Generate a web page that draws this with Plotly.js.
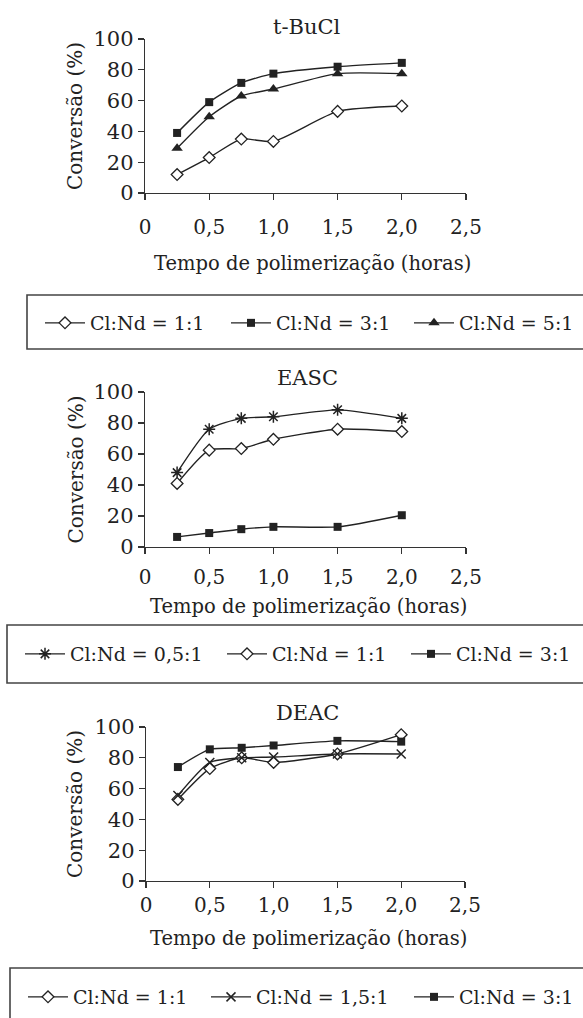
<!DOCTYPE html>
<html>
<head>
<meta charset="utf-8">
<script src="https://cdn.plot.ly/plotly-3.0.1.min.js"></script>
<style>
  html, body { margin: 0; padding: 0; background: #ffffff; }
  #chart { width: 583px; height: 1018px; }
</style>
</head>
<body>
<div id="chart"></div>
<script>
// Polymerization time (hours)
const tempo = [0.25, 0.5, 0.75, 1.0, 1.5, 2.0];

// Conversion (%) with t-BuCl as chloride donor
const tbucl_1_1 = [12, 23, 35, 33.5, 53, 56.5];
const tbucl_3_1 = [39, 59, 71.5, 77.5, 82, 84.5];
const tbucl_5_1 = [29, 49.5, 63, 67.5, 77.5, 77.5];

// Conversion (%) with EASC
const easc_05_1 = [48, 76, 83, 84, 88.5, 83];
const easc_1_1 = [41, 62.5, 63.5, 69.5, 76, 74.5];
const easc_3_1 = [6.5, 9, 11.5, 13, 13, 20.5];

// Conversion (%) with DEAC
const deac_1_1 = [53, 73, 80, 77, 82.5, 95];
const deac_15_1 = [55.5, 77, 80, 80.5, 82.5, 82.5];
const deac_3_1 = [74, 85.5, 86.5, 88, 91, 90.5];

// Tick labels and texts
const xTickVals = [0, 0.5, 1.0, 1.5, 2.0, 2.5];
const xTickText = ['0', '0,5', '1,0', '1,5', '2,0', '2,5'];
const yTickVals = [0, 20, 40, 60, 80, 100];
const panelTitles = ['t-BuCl', 'EASC', 'DEAC'];
const xTitle = 'Tempo de polimerização (horas)';
const yTitle = 'Conversão (%)';

const W = 583, H = 1018;
const FONT = 'DejaVu Serif, Liberation Serif, serif';
const INK = '#222222';
const AXIS = '#333333';

const px = v => v / W;          // horizontal pixel -> paper
const py = v => 1 - v / H;      // vertical pixel -> paper

// Panel frames in pixels: left, right, top (100 %), bottom (0 %),
// plus the legend strip beneath each panel (box edges, row centre, entry starts)
const panels = [
  { l: 145, r: 466, t: 39,  b: 193, labStand: 10, titleY: 27,  xtY: 263, xtX: 312,
    box: { l: 27, t: 295, b: 349 }, legY: 323, legX: [40, 226, 409] },
  { l: 145, r: 466, t: 392, b: 547, labStand: 6,  titleY: 378, xtY: 606, xtX: 308,
    box: { l: 7, t: 625, b: 683 },  legY: 654, legX: [20, 222, 406] },
  { l: 146, r: 465, t: 727, b: 881, labStand: 0,  titleY: 713, xtY: 938, xtX: 308,
    box: { l: 10, t: 968, b: 1040 }, legY: 997, legX: [23, 206, 409] }
];

// Marker styles: hollow diamond is white-filled, line-only glyphs are stroked
const markerStyles = {
  diamond:  { symbol: 'diamond', size: 9, color: '#ffffff', line: { color: INK, width: 1.3 } },
  square:   { symbol: 'square', size: 8, color: INK, line: { color: INK, width: 0 } },
  triangle: { symbol: 'triangle-up', size: 10, color: INK, line: { color: INK, width: 0 } },
  asterisk: { symbol: 'asterisk-open', size: 10, color: INK, line: { color: INK, width: 1.5 } },
  cross:    { symbol: 'x-thin-open', size: 9, color: INK, line: { color: INK, width: 1.5 } }
};

// Each legend entry gets its own legend so it can sit at its own spot in the strip
let legendCount = 0;
const legendIds = [];
function nextLegend() {
  legendCount += 1;
  const id = legendCount === 1 ? 'legend' : 'legend' + legendCount;
  legendIds.push(id);
  return id;
}

function series(y, name, style, axisIdx) {
  const suf = axisIdx === 1 ? '' : String(axisIdx);
  return {
    x: tempo, y: y, name: name,
    type: 'scatter', mode: 'lines+markers',
    xaxis: 'x' + suf, yaxis: 'y' + suf,
    legend: nextLegend(),
    cliponaxis: false,
    line: { color: INK, width: 1.4, shape: 'spline', smoothing: 0.6 },
    marker: markerStyles[style]
  };
}

const traces = [
  series(tbucl_1_1, 'Cl:Nd = 1:1', 'diamond', 1),
  series(tbucl_3_1, 'Cl:Nd = 3:1', 'square', 1),
  series(tbucl_5_1, 'Cl:Nd = 5:1', 'triangle', 1),

  series(easc_05_1, 'Cl:Nd = 0,5:1', 'asterisk', 2),
  series(easc_1_1, 'Cl:Nd = 1:1', 'diamond', 2),
  series(easc_3_1, 'Cl:Nd = 3:1', 'square', 2),

  series(deac_1_1, 'Cl:Nd = 1:1', 'diamond', 3),
  series(deac_15_1, 'Cl:Nd = 1,5:1', 'cross', 3),
  series(deac_3_1, 'Cl:Nd = 3:1', 'square', 3)
];

function xAxis(p, anchor) {
  return {
    domain: [px(p.l), px(p.r)], anchor: anchor,
    range: [0, 2.5], tickvals: xTickVals, ticktext: xTickText,
    showline: true, linecolor: AXIS, linewidth: 1.3,
    ticks: 'outside', ticklen: 6, tickwidth: 1.3, tickcolor: AXIS,
    ticklabelstandoff: p.labStand,
    showgrid: false, zeroline: false, fixedrange: true,
    tickfont: { family: FONT, size: 20, color: INK }
  };
}
function yAxis(p, anchor) {
  return {
    domain: [py(p.b), py(p.t)], anchor: anchor,
    range: [0, 100], tickvals: yTickVals,
    showline: true, linecolor: AXIS, linewidth: 1.3,
    ticks: 'outside', ticklen: 6, tickwidth: 1.3, tickcolor: AXIS,
    showgrid: false, zeroline: false, fixedrange: true,
    tickfont: { family: FONT, size: 21, color: INK }
  };
}

function legendBox(box) {
  return {
    type: 'rect', xref: 'paper', yref: 'paper',
    x0: px(box.l), x1: px(W + 20), y0: py(box.b), y1: py(box.t),
    line: { color: '#444444', width: 1.6 }, fillcolor: 'rgba(0,0,0,0)'
  };
}
function legendSpec(left, cy) {
  return {
    orientation: 'h', xanchor: 'left', yanchor: 'middle',
    x: px(left), y: py(cy),
    itemwidth: 40,
    bgcolor: 'rgba(0,0,0,0)', borderwidth: 0,
    font: { family: FONT, size: 19, color: INK }
  };
}

const annotations = [];
panels.forEach((p, i) => {
  annotations.push({
    text: panelTitles[i], xref: 'paper', yref: 'paper',
    x: px(307), y: py(p.titleY), xanchor: 'center', yanchor: 'middle',
    showarrow: false, font: { family: FONT, size: 21, color: INK }
  });
  annotations.push({
    text: xTitle, xref: 'paper', yref: 'paper',
    x: px(p.xtX), y: py(p.xtY), xanchor: 'center', yanchor: 'middle',
    showarrow: false, font: { family: FONT, size: 19.5, color: INK }
  });
  annotations.push({
    text: yTitle, xref: 'paper', yref: 'paper', textangle: -90,
    x: px(75), y: py((p.t + p.b) / 2), xanchor: 'center', yanchor: 'middle',
    showarrow: false, font: { family: FONT, size: 20, color: INK }
  });
});

const layout = {
  width: W, height: H,
  margin: { l: 0, r: 0, t: 0, b: 0 },
  paper_bgcolor: '#ffffff', plot_bgcolor: 'rgba(0,0,0,0)',
  showlegend: true,
  xaxis: xAxis(panels[0], 'y'),   yaxis: yAxis(panels[0], 'x'),
  xaxis2: xAxis(panels[1], 'y2'), yaxis2: yAxis(panels[1], 'x2'),
  xaxis3: xAxis(panels[2], 'y3'), yaxis3: yAxis(panels[2], 'x3'),
  shapes: panels.map(p => legendBox(p.box)),
  annotations: annotations
};

// One legend per entry, three per panel strip
panels.forEach((p, i) => {
  p.legX.forEach((lx, j) => {
    layout[legendIds[i * 3 + j]] = legendSpec(lx, p.legY);
  });
});

Plotly.newPlot('chart', traces, layout, { staticPlot: true, displayModeBar: false });
</script>
</body>
</html>
